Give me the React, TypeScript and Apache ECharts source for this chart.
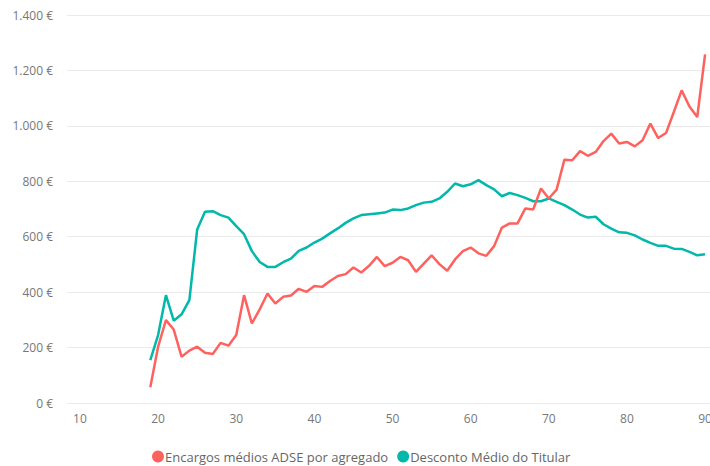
import React, { useEffect, useRef } from "react";
import * as echarts from "echarts";

const ages = [
  19, 20, 21, 22, 23, 24, 25, 26, 27, 28, 29, 30, 31, 32, 33, 34, 35, 36,
  37, 38, 39, 40, 41, 42, 43, 44, 45, 46, 47, 48, 49, 50, 51, 52, 53, 54,
  55, 56, 57, 58, 59, 60, 61, 62, 63, 64, 65, 66, 67, 68, 69, 70, 71, 72,
  73, 74, 75, 76, 77, 78, 79, 80, 81, 82, 83, 84, 85, 86, 87, 88, 89, 90,
];

const encargos = [
  57, 203, 299, 265, 167, 189, 203, 181, 177, 217, 207, 245, 389, 287, 338, 395, 359, 383,
  388, 412, 401, 422, 419, 440, 458, 465, 489, 471, 495, 527, 494, 506, 527, 515, 473, 503,
  533, 501, 477, 518, 548, 561, 540, 531, 566, 633, 648, 648, 702, 698, 774, 738, 770, 878,
  876, 909, 892, 906, 945, 972, 936, 942, 926, 948, 1008, 956, 974, 1050, 1128, 1070, 1032, 1258,
];

const desconto = [
  155, 245, 389, 297, 320, 371, 626, 690, 692, 678, 669, 638, 609, 548, 509, 491, 491, 508,
  521, 549, 561, 579, 593, 612, 630, 650, 666, 678, 681, 684, 687, 698, 696, 702, 714, 723,
  726, 738, 762, 792, 782, 789, 804, 786, 771, 746, 758, 750, 740, 728, 728, 738, 726, 714,
  698, 680, 669, 672, 645, 629, 616, 614, 605, 590, 578, 567, 567, 557, 556, 545, 533, 537,
];

const seriesNames = ["Encargos médios ADSE por agregado", "Desconto Médio do Titular"];
const colors = ["#FD625E", "#01B8AA"];

const fontFamily = "'Open Sans', 'Noto Sans', sans-serif";

function formatEuro(v: number): string {
  const s = String(Math.round(v)).replace(/\B(?=(\d{3})+(?!\d))/g, ".");
  return s + " €";
}

export default function App() {
  const ref = useRef<HTMLDivElement>(null);

  useEffect(() => {
    document.body.style.margin = "0";
    if (!ref.current) return;
    const chart = echarts.init(ref.current, undefined, { renderer: "svg" });
    chart.setOption({
      animation: false,
      color: colors,
      grid: {
        left: 67,
        right: 0,
        top: 15,
        bottom: 63,
        containLabel: false,
        outerBoundsMode: "none",
      },
      legend: {
        left: 147,
        top: 445,
        icon: "circle",
        itemWidth: 12,
        itemHeight: 12,
        itemGap: 9,
        textStyle: { color: "#666", fontSize: 13, fontFamily, padding: [0, 0, 0, -4] },
        data: seriesNames,
      },
      xAxis: {
        type: "value",
        min: 8.34,
        max: 90.63,
        splitNumber: 8,
        axisLine: { show: false },
        axisTick: { show: false },
        splitLine: { show: false },
        axisLabel: {
          color: "#777",
          fontSize: 12,
          fontFamily,
          margin: 9,
          showMinLabel: false,
          showMaxLabel: false,
          formatter: (v: number) => (Math.abs(v % 10) < 1e-6 ? String(v) : ""),
        },
      },
      yAxis: {
        type: "value",
        min: 0,
        max: 1400,
        interval: 200,
        axisLine: { show: false },
        axisTick: { show: false },
        splitLine: { lineStyle: { color: "#eaeaea", width: 1 } },
        axisLabel: {
          color: "#777",
          fontSize: 12,
          fontFamily,
          margin: 14,
          formatter: (v: number) => formatEuro(v),
        },
      },
      series: [
        {
          name: seriesNames[0],
          type: "line",
          data: ages.map((a, i) => [a, encargos[i]]),
          showSymbol: false,
          lineStyle: { width: 2.5, color: colors[0] },
          itemStyle: { color: colors[0] },
          z: 3,
        },
        {
          name: seriesNames[1],
          type: "line",
          data: ages.map((a, i) => [a, desconto[i]]),
          showSymbol: false,
          lineStyle: { width: 2.5, color: colors[1] },
          itemStyle: { color: colors[1] },
          z: 2,
        },
      ],
    });
    return () => chart.dispose();
  }, []);

  return <div ref={ref} style={{ width: 710, height: 466 }} />;
}
